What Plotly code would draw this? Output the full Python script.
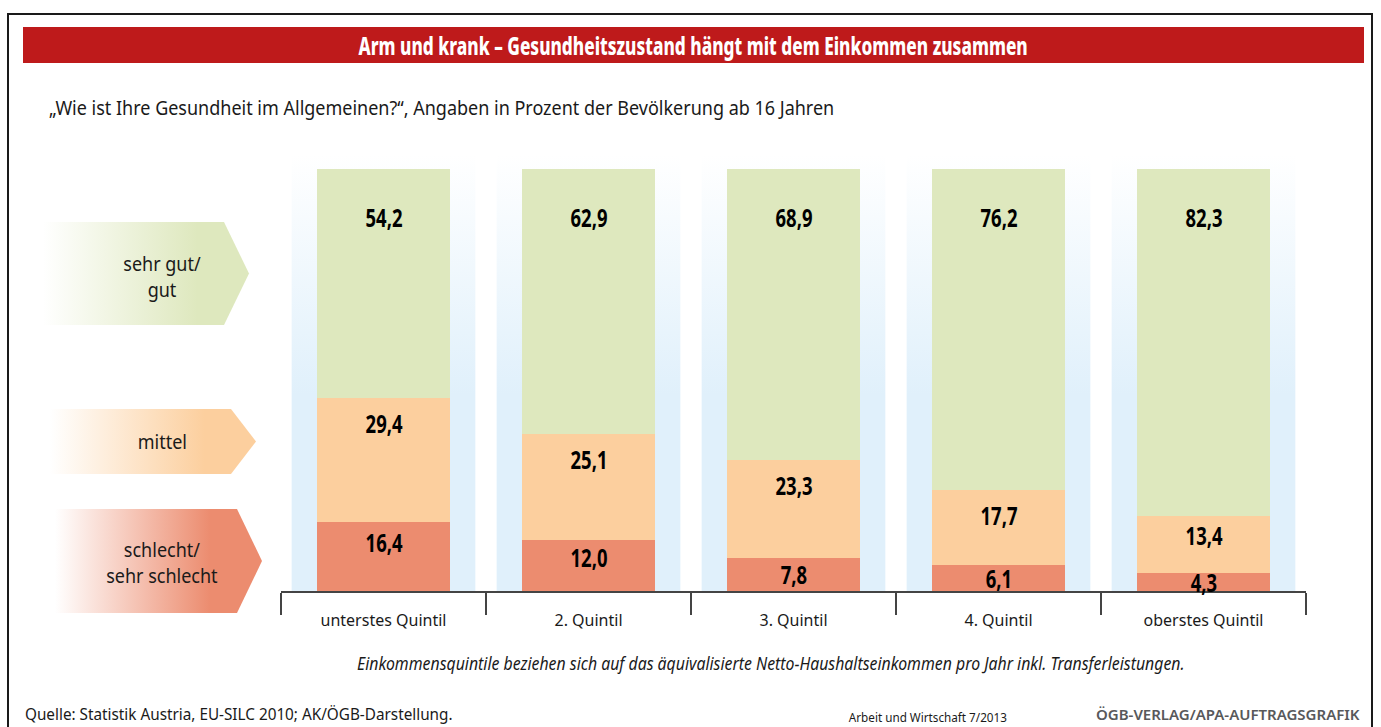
import plotly.graph_objects as go

# ---------------- data ----------------
categories = ["unterstes Quintil", "2. Quintil", "3. Quintil", "4. Quintil", "oberstes Quintil"]
schlecht = [16.4, 12.0, 7.8, 6.1, 4.3]
mittel = [29.4, 25.1, 23.3, 17.7, 13.4]
gut = [54.2, 62.9, 68.9, 76.2, 82.3]

title = "Arm und krank – Gesundheitszustand hängt mit dem Einkommen zusammen"
subtitle = "„Wie ist Ihre Gesundheit im Allgemeinen?“, Angaben in Prozent der Bevölkerung ab 16 Jahren"
note = "Einkommensquintile beziehen sich auf das äquivalisierte Netto-Haushaltseinkommen pro Jahr inkl. Transferleistungen."
source = "Quelle: Statistik Austria, EU-SILC 2010; AK/ÖGB-Darstellung."
magazine = "Arbeit und Wirtschaft 7/2013"
credit = "ÖGB-VERLAG/APA-AUFTRAGSGRAFIK"

# ---------------- styles ----------------
W, H = 1381, 727
FONT = "Noto Sans, DejaVu Sans, sans-serif"
C_SCHLECHT = "#ec8c6f"
C_MITTEL = "#fccf9e"
C_GUT = "#dee8be"
C_BG = "#e0f0fb"
RED = "#be1a1b"
TXT = "#1a1a1a"

def px(x):
    return x / W

def py(y):
    return 1 - y / H

# plot area in pixels
X_LEFT, X_RIGHT = 281, 1306
Y_ZERO = 591
PX_PER_UNIT = 4.22
Y_MAX = 104
Y_TOP_PX = Y_ZERO - Y_MAX * PX_PER_UNIT
xdom = [px(X_LEFT), px(X_RIGHT)]
ydom = [py(Y_ZERO), py(Y_TOP_PX)]
xr = [-0.5, len(categories) - 0.5]
yr = [0, Y_MAX]
BAR_W = 0.645
BG_W = 0.896
BG_TOP = 103.4

fig = go.Figure()

# background columns (subplot xy, below bars)
for i, _ in enumerate(categories):
    fig.add_trace(go.Scatter(
        x=[i - BG_W / 2, i + BG_W / 2, i + BG_W / 2, i - BG_W / 2, i - BG_W / 2],
        y=[0, 0, BG_TOP, BG_TOP, 0],
        mode="lines", line=dict(width=0), fill="toself",
        fillgradient=dict(type="vertical",
                          colorscale=[[0, C_BG], [0.45, C_BG], [1, "#ffffff"]]),
        hoverinfo="skip", showlegend=False, xaxis="x", yaxis="y"))

# stacked bars (subplot x2y2)
xs = list(range(len(categories)))
for vals, col in [(schlecht, C_SCHLECHT), (mittel, C_MITTEL), (gut, C_GUT)]:
    fig.add_trace(go.Bar(x=xs, y=vals, width=BAR_W, marker=dict(color=col, line=dict(width=0)),
                         hoverinfo="skip", showlegend=False, xaxis="x2", yaxis="y2"))

# value labels, placed below top of each segment
annotations = []
caps_px = [20, 25, 48]
stack = [schlecht, mittel, gut]
for i in range(len(categories)):
    base = 0.0
    for s, vals in enumerate(stack):
        v = vals[i]
        top = base + v
        seg_px = v * PX_PER_UNIT
        off_px = min(caps_px[s], max(seg_px / 3, min(seg_px / 2, 16)))
        annotations.append(dict(
            x=i, y=top - off_px / PX_PER_UNIT, xref="x2", yref="y2",
            text=f"{v:.1f}".replace(".", ","), showarrow=False,
            font=dict(family=FONT, size=25, color="#000000", weight=700),
            xanchor="center", yanchor="middle"))
        base = top

# legend arrows (decorative, pixel subplot x3y3)
arrows = [
    (C_GUT, 43, 224, 249, 222, 325, 277, "sehr gut/<br>gut"),
    (C_MITTEL, 50, 231, 256, 409, 474, 441, "mittel"),
    (C_SCHLECHT, 55, 237, 262, 509, 613, 562, "schlecht/<br>sehr schlecht"),
]
for col, xl, xs_, xt, yt, yb, ylab, lab in arrows:
    ym = (yt + yb) / 2
    fig.add_trace(go.Scatter(
        x=[xl, xs_, xt, xs_, xl, xl], y=[yt, yt, ym, yb, yb, yt],
        mode="lines", line=dict(width=0), fill="toself",
        fillgradient=dict(type="horizontal",
                          colorscale=[[0, "#ffffff"], [0.75, col], [1, col]]),
        hoverinfo="skip", showlegend=False, xaxis="x3", yaxis="y3"))
    annotations.append(dict(x=px(162), y=py(ylab), xref="paper", yref="paper",
                            text=lab, showarrow=False, align="center",
                            font=dict(family=FONT, size=20, color=TXT),
                            xanchor="center", yanchor="middle"))

# texts
annotations += [
    dict(x=px(693), y=py(45), xref="paper", yref="paper", text=title, showarrow=False,
         font=dict(family=FONT, size=25, color="#ffffff", weight=800), xanchor="center", yanchor="middle"),
    dict(x=px(47), y=py(107), xref="paper", yref="paper", text=subtitle, showarrow=False, align="left",
         font=dict(family=FONT, size=20, color=TXT), xanchor="left", yanchor="middle"),
    dict(x=px(771), y=py(663), xref="paper", yref="paper", text=note, showarrow=False,
         font=dict(family=FONT, size=17.6, color=TXT, style="italic"), xanchor="center", yanchor="middle"),
    dict(x=px(23), y=py(713), xref="paper", yref="paper", text=source, showarrow=False, align="left",
         font=dict(family=FONT, size=17, color=TXT), xanchor="left", yanchor="middle"),
    dict(x=px(928), y=py(717), xref="paper", yref="paper", text=magazine, showarrow=False,
         font=dict(family=FONT, size=13, color=TXT), xanchor="center", yanchor="middle"),
    dict(x=px(1362), y=py(714), xref="paper", yref="paper", text=credit, showarrow=False, align="right",
         font=dict(family=FONT, size=15, color="#58595b", weight=600), xanchor="right", yanchor="middle"),
]

shapes = [
    dict(type="rect", xref="paper", yref="paper", x0=px(8), x1=px(1372), y0=-0.1, y1=py(14),
         line=dict(color="#1a1a1a", width=2), fillcolor="rgba(0,0,0,0)", layer="above"),
    dict(type="rect", xref="paper", yref="paper", x0=px(23), x1=px(1364), y0=py(63), y1=py(27),
         line=dict(width=0), fillcolor=RED, layer="below"),
]

hidden = dict(visible=False, fixedrange=True)
fig.update_layout(
    width=W, height=H, autosize=False,
    margin=dict(l=0, r=0, t=0, b=0),
    paper_bgcolor="#ffffff", plot_bgcolor="rgba(0,0,0,0)",
    barmode="stack", bargap=0, showlegend=False, hovermode=False,
    font=dict(family=FONT, color=TXT),
    xaxis=dict(domain=xdom, range=xr, **hidden),
    yaxis=dict(domain=ydom, range=yr, **hidden),
    xaxis2=dict(domain=xdom, range=xr, anchor="y2", showgrid=False, zeroline=False,
                showline=True, linecolor="#444444", linewidth=1.5,
                tickmode="array", tickvals=xs, ticktext=categories,
                ticks="outside", ticklen=14, tickcolor="rgba(0,0,0,0)",
                tickfont=dict(family=FONT, size=16, color=TXT),
                minor=dict(tickmode="array", tickvals=[i - 0.5 for i in range(len(categories) + 1)],
                           ticks="outside", ticklen=22, tickwidth=1.5, tickcolor="#444444", showgrid=False),
                fixedrange=True),
    yaxis2=dict(domain=ydom, range=yr, anchor="x2", **hidden),
    xaxis3=dict(domain=[0, 1], range=[0, W], anchor="y3", **hidden),
    yaxis3=dict(domain=[0, 1], range=[H, 0], anchor="x3", **hidden),
    annotations=annotations,
    shapes=shapes,
)

# page margin reset + horizontal condensing of annotation texts (the original uses a condensed face)
post = """
document.body.style.margin='0';
document.body.style.overflow='hidden';
document.querySelectorAll('text.annotation-text').forEach(function(t){
  var w = parseInt(window.getComputedStyle(t).fontWeight) || 400;
  var k = w >= 800 ? 0.69 : (w >= 700 ? 0.74 : (w >= 600 ? 1.0 : 0.9));
  if (k === 1.0) { return; }
  var a = t.getAttribute('text-anchor') || 'middle';
  var o = a === 'start' ? 'left center' : (a === 'end' ? 'right center' : 'center center');
  t.style.transformBox = 'fill-box';
  t.style.transformOrigin = o;
  t.style.transform = 'scaleX(' + k + ')';
});
"""

fig.write_html("out.html", config={"displayModeBar": False}, post_script=post)
